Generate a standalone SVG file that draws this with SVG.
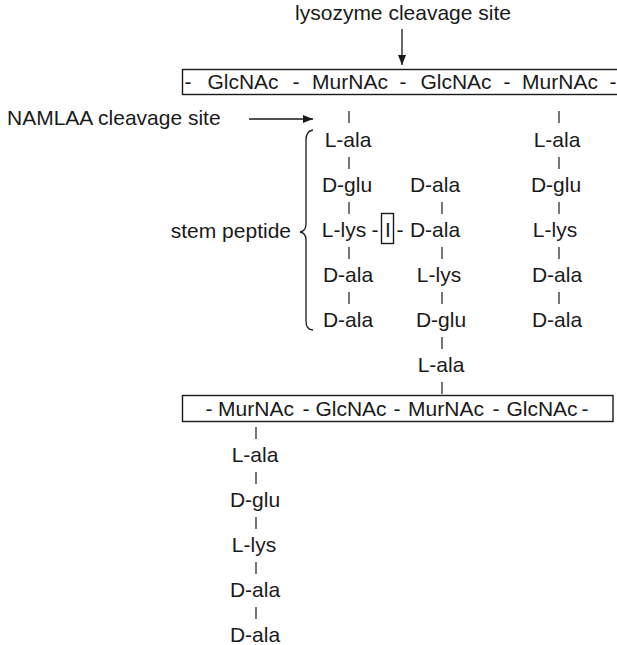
<svg xmlns="http://www.w3.org/2000/svg" width="617" height="645" viewBox="0 0 617 645">
  <style>
    text { font-family: "Liberation Sans", Arial, sans-serif; font-size: 21px; fill: #1a1a1a; }
    .c { text-anchor: middle; }
    .r { text-anchor: end; }
    .box { fill: none; stroke: #1a1a1a; stroke-width: 1.4; }
    .tick { stroke: #1a1a1a; stroke-width: 1.2; }
    .arrow { stroke: #1a1a1a; stroke-width: 1.3; fill: none; }
  </style>
  <defs>
    <marker id="head" viewBox="0 0 10 8" refX="10" refY="4" markerWidth="10" markerHeight="8" markerUnits="userSpaceOnUse" orient="auto">
      <path d="M0,0 L10,4 L0,8 Z" fill="#1a1a1a"/>
    </marker>
  </defs>
  <rect width="617" height="645" fill="#ffffff"/>

  <!-- labels with arrows -->
  <g id="lysozyme-label">
    <text class="c" x="403" y="20">lysozyme cleavage site</text>
  </g>
  <g id="namlaa-label">
    <text x="7" y="125">NAMLAA cleavage site</text>
  </g>
  <g id="stem-label">
    <text class="r" x="291" y="238">stem peptide</text>
    <path class="arrow" d="M313,130 Q306,131 306,140 L306,224 Q306,231 300,232 Q306,233 306,240 L306,321 Q306,330 313,330"/>
  </g>

  <!-- upper glycan strand -->
  <g id="glycan-top">
    <rect class="box" x="182.5" y="69.5" width="450" height="25"/>
    <text class="c" y="89">
      <tspan x="188">-</tspan><tspan x="243">GlcNAc</tspan><tspan x="296">-</tspan><tspan x="350">MurNAc</tspan><tspan x="403">-</tspan><tspan x="456">GlcNAc</tspan><tspan x="507">-</tspan><tspan x="560">MurNAc</tspan><tspan x="613">-</tspan>
    </text>
  </g>

  <!-- lower glycan strand -->
  <g id="glycan-bottom">
    <rect class="box" x="182.5" y="395.5" width="430.5" height="26"/>
    <text class="c" y="415.5">
      <tspan x="209">-</tspan><tspan x="256">MurNAc</tspan><tspan x="306">-</tspan><tspan x="351">GlcNAc</tspan><tspan x="397">-</tspan><tspan x="446">MurNAc</tspan><tspan x="496">-</tspan><tspan x="542">GlcNAc</tspan><tspan x="585">-</tspan>
    </text>
  </g>

  <!-- stem peptide, left -->
  <g id="peptide-1">
    <text class="c" x="348" y="147">L-ala</text>
    <text class="c" x="347" y="192">D-glu</text>
    <text class="c" x="344" y="237">L-lys</text>
    <text class="c" x="348" y="282">D-ala</text>
    <text class="c" x="348" y="327">D-ala</text>
  </g>

  <!-- cross bridge -->
  <g id="bridge">
    <text class="c" x="375" y="237">-</text>
    <rect class="box" x="381.5" y="213.5" width="12" height="30"/>
    <text class="c" x="388" y="237">I</text>
    <text class="c" x="400" y="237">-</text>
  </g>

  <!-- crosslinked peptide -->
  <g id="peptide-2">
    <text class="c" x="435" y="192">D-ala</text>
    <text class="c" x="435" y="237">D-ala</text>
    <text class="c" x="439" y="282">L-lys</text>
    <text class="c" x="441" y="327">D-glu</text>
    <text class="c" x="441" y="372">L-ala</text>
  </g>

  <!-- stem peptide, right -->
  <g id="peptide-3">
    <text class="c" x="557" y="147">L-ala</text>
    <text class="c" x="556" y="192">D-glu</text>
    <text class="c" x="555" y="237">L-lys</text>
    <text class="c" x="557" y="282">D-ala</text>
    <text class="c" x="557" y="327">D-ala</text>
  </g>

  <!-- stem peptide, lower strand -->
  <g id="peptide-4">
    <text class="c" x="255" y="462">L-ala</text>
    <text class="c" x="255" y="507">D-glu</text>
    <text class="c" x="254" y="552">L-lys</text>
    <text class="c" x="255" y="597">D-ala</text>
    <text class="c" x="255" y="642">D-ala</text>
  </g>

  <!-- bonds and arrows -->
  <g id="connectors">
    <line class="arrow" x1="402" y1="29" x2="402" y2="65" marker-end="url(#head)"/>
    <line class="arrow" x1="249" y1="119" x2="313" y2="119" marker-end="url(#head)"/>

    <line class="tick" x1="349" y1="111" x2="349" y2="123"/>
    <line class="tick" x1="349" y1="157" x2="349" y2="169"/>
    <line class="tick" x1="349" y1="202" x2="349" y2="214"/>
    <line class="tick" x1="349" y1="247" x2="349" y2="259"/>
    <line class="tick" x1="349" y1="292" x2="349" y2="304"/>

    <line class="tick" x1="442" y1="202" x2="442" y2="214"/>
    <line class="tick" x1="442" y1="247" x2="442" y2="259"/>
    <line class="tick" x1="442" y1="292" x2="442" y2="304"/>
    <line class="tick" x1="442" y1="337" x2="442" y2="349"/>
    <line class="tick" x1="442" y1="382" x2="442" y2="394"/>

    <line class="tick" x1="559" y1="111" x2="559" y2="123"/>
    <line class="tick" x1="559" y1="157" x2="559" y2="169"/>
    <line class="tick" x1="559" y1="202" x2="559" y2="214"/>
    <line class="tick" x1="559" y1="247" x2="559" y2="259"/>
    <line class="tick" x1="559" y1="292" x2="559" y2="304"/>

    <line class="tick" x1="256" y1="427" x2="256" y2="439"/>
    <line class="tick" x1="256" y1="472" x2="256" y2="484"/>
    <line class="tick" x1="256" y1="517" x2="256" y2="529"/>
    <line class="tick" x1="256" y1="562" x2="256" y2="574"/>
    <line class="tick" x1="256" y1="607" x2="256" y2="619"/>
  </g>
</svg>
